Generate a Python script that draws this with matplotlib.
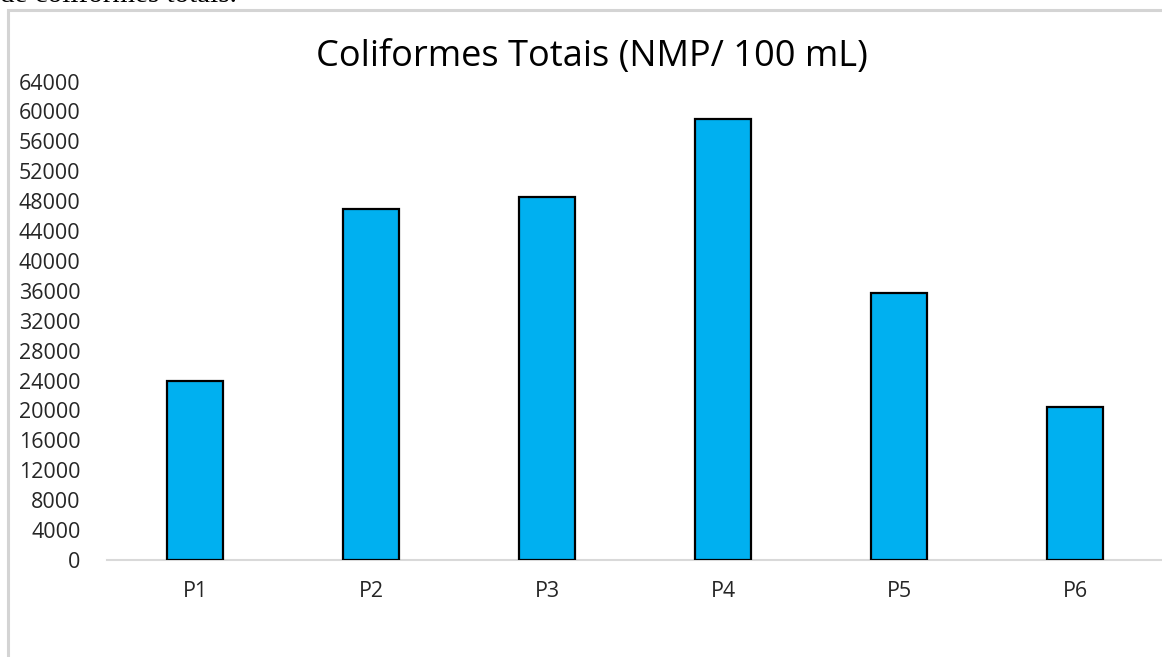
import matplotlib.pyplot as plt
from matplotlib.patches import Rectangle

# data
pontos = ["P1", "P2", "P3", "P4", "P5", "P6"]
coliformes = [23900, 47000, 48600, 59000, 35700, 20500]
yticks = list(range(0, 64001, 4000))

plt.rcParams['font.family'] = ['Open Sans', 'DejaVu Sans']

fig = plt.figure(figsize=(11.62, 6.57), dpi=100)

# cut-off caption line above the chart
fig.text(0.0, 1.0 + 5 / 657, "de coliformes totais.", family='Liberation Serif',
         fontsize=21, va='center', ha='left', color='black')

# chart frame (gray border, right and bottom sides out of view)
fig.add_artist(Rectangle((8 / 1162, -0.1), 1.2, 1.1 - 10 / 657, transform=fig.transFigure,
                         fill=False, edgecolor='#d4d4d4', linewidth=2.2))

ax = fig.add_axes([107 / 1162, 97 / 657, 1056 / 1162, 478.5 / 657])
x = list(range(len(pontos)))
ax.bar(x, coliformes, width=0.32, color='#00B0F0', edgecolor='black', linewidth=1.6, zorder=3)

ax.set_xlim(-0.5, 5.5)
ax.set_ylim(0, 64000)
ax.set_yticks(yticks)
ax.set_yticklabels([str(v) for v in yticks])
ax.set_xticks(x)
ax.set_xticklabels(pontos)
ax.tick_params(axis='y', length=0, pad=19, labelsize=15.5, labelcolor='#262626')
ax.tick_params(axis='x', length=0, pad=15, labelsize=15.5, labelcolor='#262626')
for s in ['left', 'right', 'top']:
    ax.spines[s].set_visible(False)
ax.spines['bottom'].set_color('#d9d9d9')
ax.spines['bottom'].set_linewidth(1.5)

fig.text(592 / 1162, 1 - 57 / 657, "Coliformes Totais (NMP/ 100 mL)", ha='center', va='center',
         fontsize=26, color='black')

fig.savefig("out.png", dpi=100)
